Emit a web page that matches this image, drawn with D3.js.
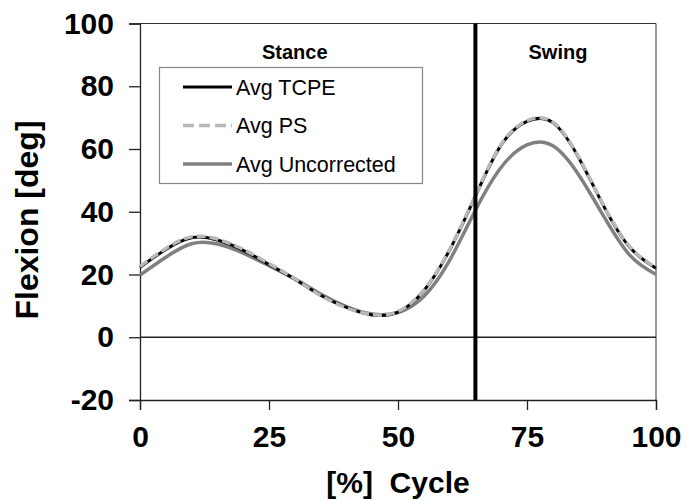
<!DOCTYPE html>
<html><head><meta charset="utf-8">
<script src="https://cdn.jsdelivr.net/npm/d3@7"></script>
<style>body{margin:0;background:#fff}svg{display:block}text{font-family:"Liberation Sans",Arial,sans-serif}</style>
</head><body><svg id="c" width="686" height="501"></svg>
<script>
const cyclePct = [0,5,10,15,20,25,30,35,40,45,50,55,60,65,70,75,80,85,90,95,100];
const avgTCPE = [22.3,28.0,31.7,31.0,27.7,23.2,18.5,13.4,9.5,7.1,8.0,14.8,27.8,45.0,61.3,68.8,68.4,57.3,41.4,28.5,22.0];
const avgPS   = [22.6,28.3,32.0,31.3,28.0,23.5,18.6,13.3,9.4,7.2,8.2,15.0,28.0,45.2,61.5,69.0,68.6,57.5,41.6,28.7,22.2];
const avgUncorrected = [19.8,25.5,29.8,29.7,26.8,22.8,18.6,13.8,9.8,7.4,7.9,13.0,24.5,40.5,54.2,61.3,61.0,51.8,38.2,26.0,20.0];
const xTicks = [0,25,50,75,100];
const yTicks = [-20,0,20,40,60,80,100];
const phaseSplit = 65;
const phaseLabels = [{name:"Stance", at:30},{name:"Swing", at:81}];
const seriesNames = ["Avg TCPE","Avg PS","Avg Uncorrected"];

const svg = d3.select("#c");
const x = d3.scaleLinear().domain([0,100]).range([140,656]);
const y = d3.scaleLinear().domain([-20,100]).range([400,23.5]);
const fmt = d => String(d);

// plot border top/right
svg.append("line").attr("x1",x(0)).attr("x2",x(100)).attr("y1",y(100)).attr("y2",y(100)).attr("stroke","#333").attr("stroke-width",1.2);
svg.append("line").attr("x1",x(100)).attr("x2",x(100)).attr("y1",y(100)).attr("y2",y(-20)).attr("stroke","#777").attr("stroke-width",1.5);
// zero line
svg.append("line").attr("x1",x(0)).attr("x2",x(100)).attr("y1",y(0)).attr("y2",y(0)).attr("stroke","#222").attr("stroke-width",1.3);

// y axis
const yAxis = svg.append("g").attr("transform",`translate(${x(0)},0)`)
  .call(d3.axisLeft(y).tickValues(yTicks).tickSize(11).tickPadding(15).tickFormat(fmt));
yAxis.select(".domain").attr("stroke","#222").attr("stroke-width",1.3);
yAxis.selectAll(".tick line").attr("stroke","#222").attr("stroke-width",1.3);
yAxis.selectAll("text").attr("font-size",30).attr("font-weight","bold").attr("fill","#000").attr("font-family","Liberation Sans, Arial, sans-serif");

// x axis
const xAxis = svg.append("g").attr("transform",`translate(0,${y(-20)})`)
  .call(d3.axisBottom(x).tickValues(xTicks).tickSize(10).tickPadding(16).tickFormat(fmt));
xAxis.select(".domain").attr("stroke","#222").attr("stroke-width",1.3);
xAxis.selectAll(".tick line").attr("stroke","#222").attr("stroke-width",1.3);
xAxis.selectAll("text").attr("font-size",30).attr("font-weight","bold").attr("fill","#000").attr("font-family","Liberation Sans, Arial, sans-serif");

// series
const line = d3.line().x((d,i)=>x(cyclePct[i])).y(d=>y(d)).curve(d3.curveNatural);
svg.append("path").attr("d",line(avgUncorrected)).attr("fill","none").attr("stroke","#808080").attr("stroke-width",3.5);
svg.append("path").attr("d",line(avgTCPE)).attr("fill","none").attr("stroke","#000").attr("stroke-width",3);
svg.append("path").attr("d",line(avgPS)).attr("fill","none").attr("stroke","#b8b8b8").attr("stroke-width",3.5).attr("stroke-dasharray","9,4");

// phase split
svg.append("line").attr("x1",x(phaseSplit)).attr("x2",x(phaseSplit)).attr("y1",y(100)).attr("y2",y(-20)).attr("stroke","#000").attr("stroke-width",4);
svg.selectAll(".phase").data(phaseLabels).join("text").attr("class","phase")
  .attr("x",d=>x(d.at)).attr("y",59).attr("text-anchor","middle").attr("font-size",20).attr("font-weight","bold").text(d=>d.name);

// legend
const lg = svg.append("g");
lg.append("rect").attr("x",159.5).attr("y",67.5).attr("width",263).attr("height",116).attr("fill","#fff").attr("stroke","#888").attr("stroke-width",1.2);
const lgStyles = [{c:"#000",w:3,da:null},{c:"#b8b8b8",w:3.5,da:"11,5"},{c:"#808080",w:3.5,da:null}];
seriesNames.forEach((n,i)=>{
  const yy = 87 + i*38.5;
  lg.append("line").attr("x1",183).attr("x2",232).attr("y1",yy).attr("y2",yy).attr("stroke",lgStyles[i].c).attr("stroke-width",lgStyles[i].w).attr("stroke-dasharray",lgStyles[i].da);
  lg.append("text").attr("x",236).attr("y",yy+7.5).attr("font-size",21.5).attr("fill","#000").text(n);
});

// axis titles
svg.append("text").attr("x",398).attr("y",493).attr("text-anchor","middle").attr("font-size",30).attr("font-weight","bold").attr("xml:space","preserve").text("[%]  Cycle");
svg.append("text").attr("transform","translate(38,220) rotate(-90)").attr("text-anchor","middle").attr("font-size",32).attr("font-weight","bold").text("Flexion [deg]");
</script></body></html>
